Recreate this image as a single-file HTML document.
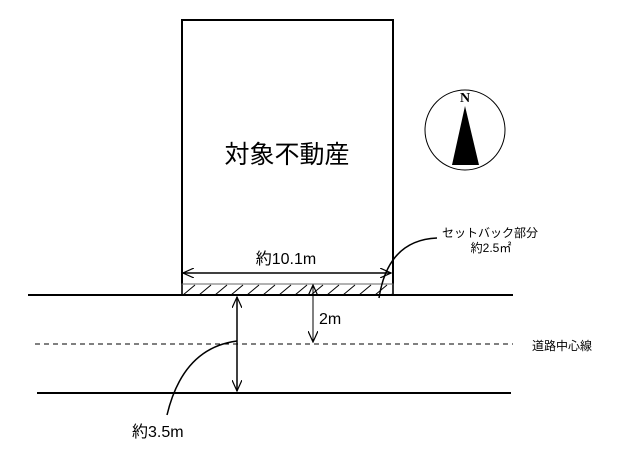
<!DOCTYPE html>
<html><head><meta charset="utf-8"><style>
body{margin:0;background:#fff;}
svg{display:block;font-family:"Liberation Sans","Noto Sans CJK JP",sans-serif;}
</style></head><body>
<svg width="632" height="460" viewBox="0 0 632 460">
<defs>
<pattern id="h" width="16" height="12" patternUnits="userSpaceOnUse" x="181" y="284">
<line x1="2" y1="11" x2="14" y2="1" stroke="#000" stroke-width="1"/>
</pattern>
<marker id="a" markerWidth="12" markerHeight="10" refX="11" refY="5" orient="auto-start-reverse" markerUnits="userSpaceOnUse">
<path d="M0,0 L11,5 L0,10" fill="none" stroke="#000" stroke-width="1.2"/>
</marker>
</defs>
<rect x="182" y="20" width="211" height="275" fill="#fff" stroke="#000" stroke-width="2"/>
<rect x="182" y="284" width="211" height="11" fill="url(#h)" stroke="#666" stroke-width="1"/>
<text x="287" y="163" font-size="25" text-anchor="middle">対象不動産</text>
<line x1="183" y1="273" x2="391" y2="273" stroke="#000" stroke-width="1.5" marker-start="url(#a)" marker-end="url(#a)"/>
<text x="286" y="264" font-size="16" text-anchor="middle">約10.1m</text>
<line x1="28" y1="295" x2="513" y2="295" stroke="#000" stroke-width="2"/>
<line x1="35" y1="344" x2="513" y2="344" stroke="#000" stroke-width="1" stroke-dasharray="5,4"/>
<line x1="37" y1="393" x2="511" y2="393" stroke="#000" stroke-width="2"/>
<line x1="237" y1="297" x2="237" y2="391" stroke="#000" stroke-width="1.5" marker-start="url(#a)" marker-end="url(#a)"/>
<line x1="313" y1="285" x2="313" y2="342" stroke="#000" stroke-width="1" marker-start="url(#a)" marker-end="url(#a)"/>
<text x="319" y="324" font-size="16">2m</text>
<path d="M237,341 Q183,348 167,415" fill="none" stroke="#000" stroke-width="1.5"/>
<text x="132" y="437" font-size="16">約3.5m</text>
<path d="M379,298 Q388,240 437,238" fill="none" stroke="#000" stroke-width="1.5"/>
<text x="490" y="237" font-size="12" text-anchor="middle">セットバック部分</text>
<text x="491" y="252" font-size="12" text-anchor="middle">約2.5㎡</text>
<text x="532" y="350" font-size="12">道路中心線</text>
<circle cx="465" cy="130" r="40" fill="#fff" stroke="#000" stroke-width="1"/>
<text x="465" y="102" font-size="14" font-weight="bold" text-anchor="middle" font-family="Liberation Serif,serif">N</text>
<polygon points="465,106 452,165 479,165" fill="#000"/>
</svg>
</body></html>
